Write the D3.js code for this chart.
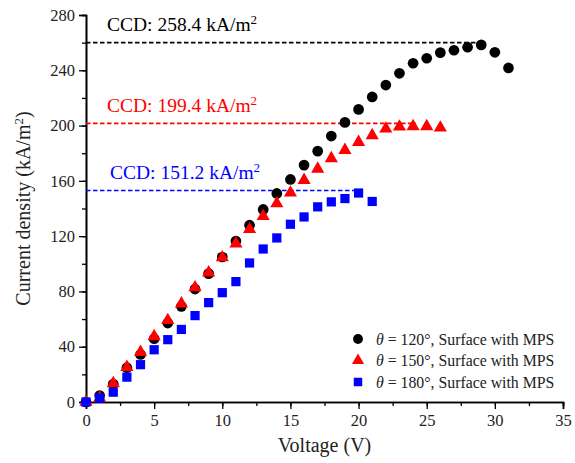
<!DOCTYPE html>
<html>
<head>
<meta charset="utf-8">
<script src="https://cdn.jsdelivr.net/npm/d3@7"></script>
<style>
  body { margin: 0; background: #fff; }
  svg, svg text, svg tspan { font-family: "Liberation Serif", "Times New Roman", Times, "DejaVu Serif", serif !important; }
</style>
</head>
<body>
<div id="chart"></div>
<script>
// voltages (V)
const voltage120 = d3.range(0, 32);
const voltage150 = d3.range(0, 27);
const voltage180 = d3.range(0, 22);

// current density (kA/m2)
const density120 = [0, 4.7, 13, 24.8, 34.4, 45.8, 57.1, 69.2, 81.7, 92.9, 104.9, 116.5, 127.9, 139.3, 150.9,
  161, 171.4, 181.5, 192.4, 202.3, 211.7, 220.7, 229.3, 237.8, 245.1, 248.7, 252.8, 254.5, 256.7, 258.4, 253, 241.7];
const density150 = [0, 3, 13.5, 25.2, 36.1, 47.5, 59.1, 71.2, 82.8, 93.6, 104.5, 114.6, 125, 134.4, 143.6,
  151.4, 160.5, 168.7, 176.2, 182.2, 188, 192.9, 197.7, 199.1, 199.4, 199.4, 198.4];
const density180 = [0, 2.8, 7.1, 18, 27, 37.8, 45.1, 52.5, 62.5, 71.9, 79.1, 87.1, 100.6, 110.7, 118.7,
  128.6, 133.9, 141.2, 144.8, 147.2, 151.2, 145.1];

const seriesNames = ["120°", "150°", "180°"];
const seriesColors = ["#000000", "#ff0000", "#0000ff"];
const ccdLabels = ["258.4", "199.4", "151.2"];
const ccdLineLevel = [260, 201.6, 153];
const ccdLineEnd = [29, 24.2, 20];

const xTicks = [0, 5, 10, 15, 20, 25, 30, 35];
const yTicks = [0, 40, 80, 120, 160, 200, 240, 280];

const fontFamily = '"Liberation Serif", "Times New Roman", Times, "DejaVu Serif", serif';

const margin = { top: 15, right: 12, bottom: 61, left: 86 },
  width = 575 - margin.left - margin.right,
  height = 463 - margin.top - margin.bottom;

const svg = d3.select("#chart")
  .append("svg")
  .attr("width", 575)
  .attr("height", 463)
  .append("g")
  .attr("font-family", fontFamily)
  .attr("transform", `translate(${margin.left},${margin.top})`);

const x = d3.scaleLinear().domain([0, 35]).range([0, width]);
const y = d3.scaleLinear().domain([0, 280]).range([height, 0]);

// minor ticks
const xAxisMinor = svg.append("g")
  .attr("transform", `translate(0,${height})`)
  .call(d3.axisBottom(x).tickValues(d3.range(0, 35.1, 2.5)).tickSize(4).tickFormat(""));
const yAxisMinor = svg.append("g")
  .call(d3.axisLeft(y).tickValues(d3.range(0, 281, 20)).tickSize(4).tickFormat(""));

const xAxis = svg.append("g")
  .attr("transform", `translate(0,${height})`)
  .call(d3.axisBottom(x).tickValues(xTicks).tickSize(7).tickPadding(5).tickFormat(d3.format("d")));
const yAxis = svg.append("g")
  .call(d3.axisLeft(y).tickValues(yTicks).tickSize(7).tickPadding(4).tickFormat(d3.format("d")));

[xAxisMinor, yAxisMinor, xAxis, yAxis].forEach(g => {
  g.attr("font-family", fontFamily).attr("font-size", 16.5);
  g.select(".domain").attr("stroke-width", 1.6);
  g.selectAll(".tick line").attr("stroke-width", 1.3);
  g.selectAll("text").attr("fill", "#222").attr("font-family", fontFamily);
});

// axis titles
svg.append("text")
  .attr("x", width / 2)
  .attr("y", height + 50)
  .attr("text-anchor", "middle")
  .attr("font-size", 20)
  .attr("fill", "#222")
  .text("Voltage (V)");

const yTitle = svg.append("text")
  .attr("transform", `translate(-56,${height / 2}) rotate(-90)`)
  .attr("text-anchor", "middle")
  .attr("font-size", 20)
  .attr("fill", "#222");
yTitle.append("tspan").text("Current density (kA/m");
yTitle.append("tspan").attr("dy", -7).attr("font-size", 13).text("2");
yTitle.append("tspan").attr("dy", 7).text(")");

// CCD dashed lines and labels
const labelY = [31, 112, 179];
ccdLineLevel.forEach((lvl, i) => {
  svg.append("line")
    .attr("x1", x(0))
    .attr("x2", x(ccdLineEnd[i]))
    .attr("y1", y(lvl))
    .attr("y2", y(lvl))
    .attr("stroke", seriesColors[i])
    .attr("stroke-width", 1.6)
    .attr("stroke-dasharray", "4.5,2.5");

  const t = svg.append("text")
    .attr("x", i == 2 ? 24 : 21)
    .attr("y", labelY[i] - margin.top)
    .attr("font-size", 19.5)
    .attr("fill", seriesColors[i]);
  t.append("tspan").text(`CCD: ${ccdLabels[i]} kA/m`);
  t.append("tspan").attr("dy", -7).attr("font-size", 13).text("2");
});

// markers
const series = [
  { v: voltage120, d: density120, symbol: d3.symbolCircle, size: 90 },
  { v: voltage150, d: density150, symbol: d3.symbolTriangle, size: 75 },
  { v: voltage180, d: density180, symbol: d3.symbolSquare, size: 85 }
];

series.forEach((s, i) => {
  const data = s.v.map((v, j) => ({ v, d: s.d[j] }));
  svg.selectAll(".pt" + i)
    .data(data)
    .enter()
    .append("path")
    .attr("class", "pt" + i)
    .attr("d", d3.symbol().type(s.symbol).size(s.size))
    .attr("transform", d => `translate(${x(d.v)},${y(d.d)})`)
    .attr("fill", seriesColors[i]);
});

// legend
const legend = svg.append("g").attr("transform", `translate(${358 - margin.left},${339 - margin.top})`);
seriesNames.forEach((name, i) => {
  const row = legend.append("g").attr("transform", `translate(0,${i * 21.5})`);
  row.append("path")
    .attr("d", d3.symbol().type(series[i].symbol).size(series[i].size * 0.85))
    .attr("fill", seriesColors[i]);
  const t = row.append("text")
    .attr("x", 18)
    .attr("y", 5.5)
    .attr("font-size", 15.8)
    .attr("fill", "#222");
  t.append("tspan").attr("font-style", "italic").text("θ");
  t.append("tspan").text(` = ${name}, Surface with MPS`);
});
</script>
</body>
</html>
